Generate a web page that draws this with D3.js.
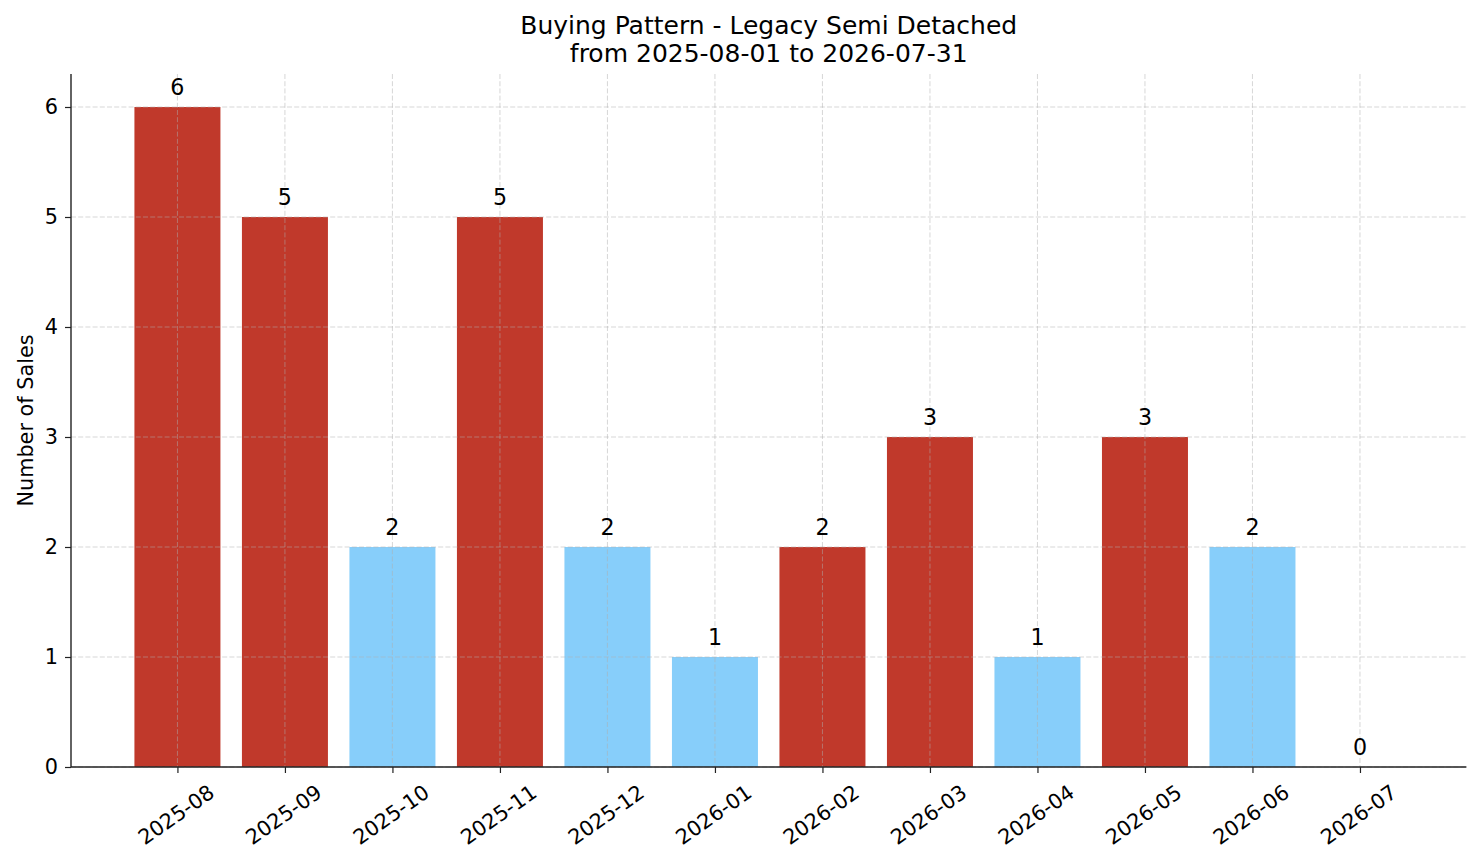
<!DOCTYPE html>
<html>
<head>
<meta charset="utf-8">
<script src="https://cdn.jsdelivr.net/npm/d3@7"></script>
<style>
  body { margin: 0; background: #fff; }
  svg { font-family: "DejaVu Sans", sans-serif; }
</style>
</head>
<body>
<script>
// months and sales per month
const months = ["2025-08", "2025-09", "2025-10", "2025-11", "2025-12", "2026-01",
                "2026-02", "2026-03", "2026-04", "2026-05", "2026-06", "2026-07"];
const sales = [6, 5, 2, 5, 2, 1, 2, 3, 1, 3, 2, 0];
const barColors = ["#c0392b", "#c0392b", "#87cefa", "#c0392b", "#87cefa", "#87cefa",
                   "#c0392b", "#c0392b", "#87cefa", "#c0392b", "#87cefa", "#87cefa"];
const yTicks = [0, 1, 2, 3, 4, 5, 6];
const titleLines = ["Buying Pattern - Legacy Semi Detached", "from 2025-08-01 to 2026-07-31"];

let W = 1481, H = 863;
let margin = {top: 74, right: 14.6, bottom: 96, left: 71};
let width = W - margin.left - margin.right,
    height = H - margin.top - margin.bottom;

let svg = d3.select("body").append("svg")
    .attr("width", W)
    .attr("height", H);
let g = svg.append("g")
    .attr("transform", "translate(" + margin.left + "," + margin.top + ")");

// matplotlib-like x: index positions, bar width 0.8, 5% margins
let idx = months.map((d, i) => i);
let lo = -0.4, hi = months.length - 1 + 0.4, pad = (hi - lo) * 0.05;
let x = d3.scaleLinear().domain([lo - pad, hi + pad]).range([0, width]);
let y = d3.scaleLinear().domain([0, 6.3]).range([height, 0]);

// bars
g.selectAll(".bar")
    .data(sales)
    .join("rect")
    .attr("class", "bar")
    .attr("x", (d, i) => x(i - 0.4))
    .attr("y", d => y(d))
    .attr("width", x(0.4) - x(-0.4))
    .attr("height", d => y(0) - y(d))
    .attr("fill", (d, i) => barColors[i]);

// grid (on top of bars like the original)
g.append("g")
    .selectAll("line.hg")
    .data(yTicks)
    .join("line")
    .attr("x1", 0).attr("x2", width)
    .attr("y1", d => y(d)).attr("y2", d => y(d))
    .attr("stroke", "#b0b0b0").attr("stroke-opacity", 0.5)
    .attr("stroke-dasharray", "5,2.2").attr("stroke-width", 1);
g.append("g")
    .selectAll("line.vg")
    .data(idx)
    .join("line")
    .attr("x1", d => x(d)).attr("x2", d => x(d))
    .attr("y1", 0).attr("y2", height)
    .attr("stroke", "#b0b0b0").attr("stroke-opacity", 0.5)
    .attr("stroke-dasharray", "5,2.2").attr("stroke-width", 1);

// value labels
g.selectAll(".val")
    .data(sales)
    .join("text")
    .attr("class", "val")
    .attr("x", (d, i) => x(i))
    .attr("y", d => y(d) - 12.5)
    .attr("text-anchor", "middle")
    .attr("font-size", "22.2px")
    .attr("fill", "#000")
    .text(d => d);

// axes
let yAxis = g.append("g")
    .call(d3.axisLeft(y).tickValues(yTicks).tickSize(6).tickPadding(7).tickFormat(d3.format("d")));
let xAxis = g.append("g")
    .attr("transform", "translate(0," + height + ")")
    .call(d3.axisBottom(x).tickValues(idx).tickSize(6).tickPadding(5).tickFormat(i => months[i]));

[xAxis, yAxis].forEach(a => {
    a.select(".domain").attr("stroke", "#222").attr("stroke-width", 1.4);
    a.selectAll(".tick line").attr("stroke", "#222").attr("stroke-width", 1.2);
    a.selectAll("text").attr("font-size", "20.8px").attr("fill", "#000")
        .attr("font-family", "DejaVu Sans, sans-serif");
});
// straight axis ends (no outer ticks)
yAxis.select(".domain").attr("d", "M0," + height + "V0");
xAxis.select(".domain").attr("d", "M0,0H" + width);

xAxis.selectAll(".tick text")
    .attr("text-anchor", "middle")
    .attr("y", 0)
    .attr("dy", "0.36em")
    .attr("transform", "translate(-2,47.5) rotate(-35)");

// y label
svg.append("text")
    .attr("transform", "translate(33," + (margin.top + height / 2) + ") rotate(-90)")
    .attr("text-anchor", "middle")
    .attr("font-size", "20.8px")
    .text("Number of Sales");

// title
svg.append("g").selectAll("text")
    .data(titleLines)
    .join("text")
    .attr("x", margin.left + width / 2)
    .attr("y", (d, i) => 34.3 + i * 27.7)
    .attr("text-anchor", "middle")
    .attr("font-size", "25px")
    .text(d => d);
</script>
</body>
</html>
